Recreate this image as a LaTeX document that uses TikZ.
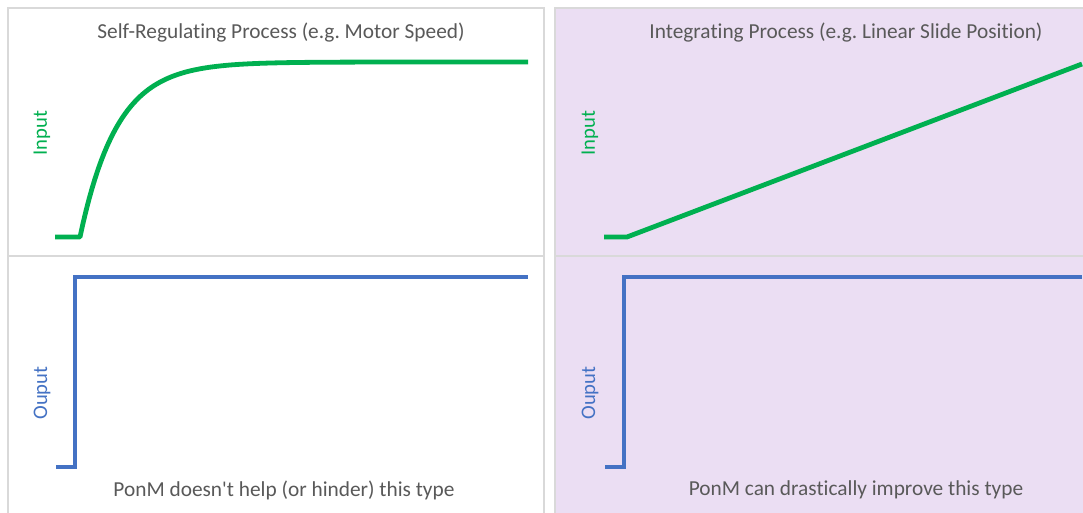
\documentclass[tikz,border=0pt]{standalone}
\usepackage{fontspec}
\setmainfont{Carlito}[Ligatures={TeXOff,CommonOff}]
\frenchspacing
\definecolor{ingreen}{HTML}{00B050}
\definecolor{outblue}{HTML}{4472C4}
\definecolor{txtgray}{HTML}{595959}
\definecolor{panelpurple}{HTML}{EBDEF3}
\definecolor{bordergray}{HTML}{D9D9D9}
\tikzset{
  panelborder/.style={draw=bordergray, line width=1.1pt},
  inputcurve/.style={draw=ingreen, line width=3.6pt, line join=round},
  outputcurve/.style={draw=outblue, line width=3.4pt, line join=miter},
  titletext/.style={text=txtgray, font=\fontsize{16}{18}\selectfont, inner sep=0pt},
  axislabel/.style={font=\fontsize{15.5}{18}\selectfont, inner sep=0pt, rotate=90},
}
\begin{document}
\begin{tikzpicture}[x=0.75pt, y=-0.75pt]
\useasboundingbox (0,0) rectangle (1083,513);
\fill[white] (0,0) rectangle (1083,513);
\clip (0,0) rectangle (1083,513);
% panels
\draw[panelborder] (8,8) rectangle (544,530);
\draw[panelborder] (8,256) -- (544,256);
\fill[panelpurple] (555,8) rectangle (1090,530);
\draw[panelborder] (555,530) -- (555,8) -- (1090,8);
\draw[panelborder] (555,256) -- (1090,256);
% titles
\node[titletext] (t1) at (281,33) {Self-Regulating Process (e.g. Motor Speed)};
\node[titletext] (t2) at (846,33) {Integrating Process (e.g. Linear Slide Position)};
\node[titletext] (b1) at (284,490) {PonM doesn't help (or hinder) this type};
\node[titletext] (b2) at (856,490) {PonM can drastically improve this type};
% axis labels
\node[axislabel, text=ingreen] (in1) at (42,133) {Input};
\node[axislabel, text=ingreen] (in2) at (590,133) {Input};
\node[axislabel, text=outblue] (out1) at (42,393) {Ouput};
\node[axislabel, text=outblue] (out2) at (590,393) {Ouput};
% input curves
\coordinate (s1) at (55,237);
\coordinate (k1) at (80,237);
\draw[inputcurve] (s1) -- (k1) -- plot[domain=0:448, samples=150] ({80+\x},{237-175*(1-exp(-\x/37))});
\coordinate (s2) at (604,237);
\coordinate (k2) at (627,237);
\coordinate (e2) at (1082,64);
\draw[inputcurve] (s2) -- (k2) -- (e2);
% output curves
\coordinate (o1a) at (56,467);
\coordinate (o1b) at (75,467);
\coordinate (o1c) at (75,277);
\coordinate (o1d) at (528,277);
\draw[outputcurve] (o1a) -- (o1b) -- (o1c) -- (o1d);
\coordinate (o2a) at (605,467);
\coordinate (o2b) at (624,467);
\coordinate (o2c) at (624,277);
\coordinate (o2d) at (1082,277);
\draw[outputcurve] (o2a) -- (o2b) -- (o2c) -- (o2d);
\end{tikzpicture}
\end{document}
